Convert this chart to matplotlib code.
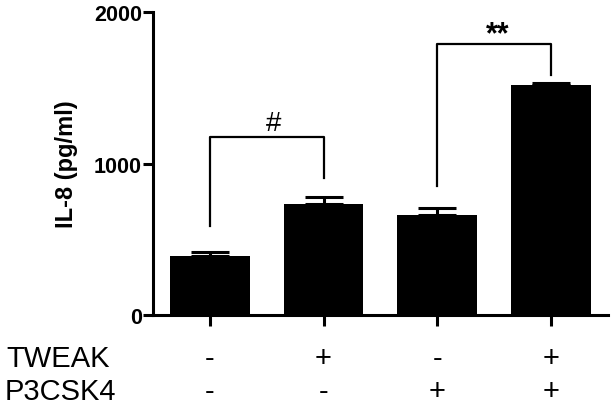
import numpy as np
import matplotlib.pyplot as plt
from matplotlib.transforms import blended_transform_factory

plt.rcParams['font.family'] = ['Liberation Sans', 'DejaVu Sans']

# data
groups = [0, 1, 2, 3]
il8_mean = [390, 735, 662, 1519]
il8_sem = [27, 46, 47, 17]
tweak_signs = ["-", "+", "-", "+"]
p3csk4_signs = ["-", "-", "+", "+"]
yticks = [0, 1000, 2000]

# significance brackets: (left group, right group, left end, top, right end, label)
brackets = [
    (0, 1, 590, 1175, 905, "#"),
    (2, 3, 855, 1790, 1585, "**"),
]

fig = plt.figure(figsize=(6.14, 4.06), dpi=100)
ax = fig.add_axes([0.249, 0.222, 0.741, 0.745])

x = np.array(groups)
ax.bar(x, il8_mean, width=0.7, color="black", zorder=2)
ax.errorbar(x, il8_mean, yerr=[np.zeros(len(il8_sem)), il8_sem], fmt="none",
            ecolor="black", elinewidth=2.2, capsize=14, capthick=2.2, zorder=3)

for x0, x1, y0, ytop, y1, lab in brackets:
    ax.plot([x0, x0, x1, x1], [y0, ytop, ytop, y1], color="black", lw=1.6, zorder=3)
    if lab == "#":
        ax.text((x0 + x1) / 2 + 0.06, ytop + 45, lab, ha="center", va="baseline", fontsize=20)
    else:
        ax.text((x0 + x1) / 2 + 0.03, ytop + 10, lab, ha="center", va="baseline",
                fontsize=22, fontweight="bold")

ax.set_xlim(-0.5, 3.5)
ax.set_ylim(0, 2000)
ax.set_yticks(yticks)
ax.set_yticklabels([str(v) for v in yticks], fontsize=15.5, fontweight="bold")
ax.set_xticks(x)
ax.set_xticklabels([])
ax.tick_params(axis="both", direction="out", width=2.2, length=7, pad=1)
ax.tick_params(axis="x", length=8)
ax.set_ylabel("IL-8 (pg/ml)", fontsize=17, fontweight="bold", labelpad=11)

for side in ["top", "right"]:
    ax.spines[side].set_visible(False)
for side in ["left", "bottom"]:
    ax.spines[side].set_linewidth(2.2)

# condition table below the axis
trans = blended_transform_factory(ax.transData, fig.transFigure)
fig.text(0.011, 0.096, "TWEAK", fontsize=21, ha="left", va="baseline")
fig.text(0.008, 0.015, "P3CSK4", fontsize=21, ha="left", va="baseline")
for xi, s1, s2 in zip(x, tweak_signs, p3csk4_signs):
    ax.text(xi, 0.096, s1, transform=trans, fontsize=21, ha="center", va="baseline")
    ax.text(xi, 0.015, s2, transform=trans, fontsize=21, ha="center", va="baseline")

fig.savefig("out.png", dpi=100)
